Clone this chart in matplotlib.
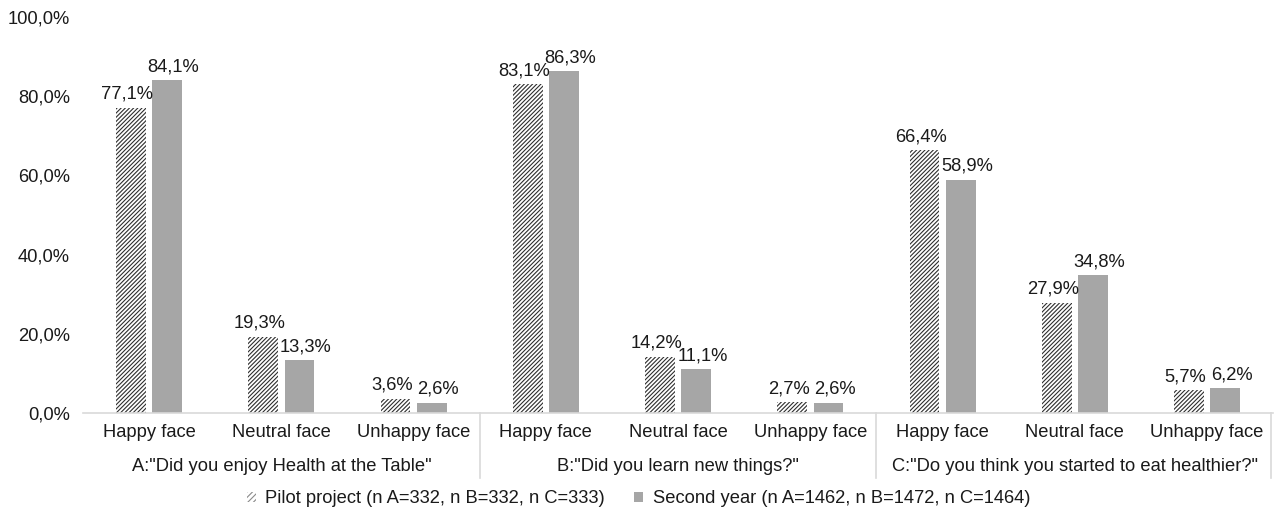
import numpy as np
import matplotlib as mpl
import matplotlib.pyplot as plt
from matplotlib.patches import Patch
from matplotlib.ticker import FuncFormatter

GROUPS = [
    'A:"Did you enjoy Health at the Table"',
    'B:"Did you learn new things?"',
    'C:"Do you think you started to eat healthier?"',
]
FACES = ["Happy face", "Neutral face", "Unhappy face"]

PILOT = [77.1, 19.3, 3.6, 83.1, 14.2, 2.7, 66.4, 27.9, 5.7]
SECOND = [84.1, 13.3, 2.6, 86.3, 11.1, 2.6, 58.9, 34.8, 6.2]

PILOT_LABEL = "Pilot project (n A=332, n B=332, n C=333)"
SECOND_LABEL = "Second year (n A=1462, n B=1472, n C=1464)"

GREY = "#A6A6A6"
HATCH_EDGE = "#2E2E2E"
AXIS = "#D9D9D9"
TEXT = "#1A1A1A"


def pct(v, _pos=None):
    return f"{v:.1f}%".replace(".", ",")


def main():
    mpl.rcParams.update({
        "font.family": ["Liberation Sans", "DejaVu Sans"],
        "font.size": 13.2,
        "hatch.linewidth": 0.8,
        "text.color": TEXT,
        "xtick.color": TEXT,
        "ytick.color": TEXT,
    })

    fig = plt.figure(figsize=(12.77, 5.16), dpi=100)
    ax = fig.add_axes([0.065, 0.1996, 0.932, 0.7674])

    n = len(PILOT)
    x = np.arange(n)
    w = 0.225
    gap = 0.05
    b1 = ax.bar(x - (w + gap) / 2, PILOT, width=w, color="white",
                edgecolor=HATCH_EDGE, hatch="////////", linewidth=0)
    b2 = ax.bar(x + (w + gap) / 2, SECOND, width=w, color=GREY, linewidth=0)

    # nudge the two labels of a pair apart a little, as the original does
    for bars, dx in ((b1, -2.5), (b2, 4.5)):
        for bar in bars:
            h = bar.get_height()
            ax.annotate(pct(h), (bar.get_x() + bar.get_width() / 2, h),
                        xytext=(dx, 3.5), textcoords="offset points",
                        ha="center", va="bottom")

    ax.set_xlim(-0.5, n - 0.5)
    ax.set_ylim(0, 100)
    ax.set_yticks([0, 20, 40, 60, 80, 100])
    ax.yaxis.set_major_formatter(FuncFormatter(pct))
    ax.set_xticks(x, FACES * len(GROUPS))
    ax.tick_params(axis="x", length=0, pad=8)
    ax.tick_params(axis="y", length=0, pad=9.5)

    for s in ("top", "right", "left"):
        ax.spines[s].set_visible(False)
    ax.spines["bottom"].set_color(AXIS)
    ax.spines["bottom"].set_linewidth(1.2)

    trans = mpl.transforms.blended_transform_factory(ax.transData, ax.transAxes)
    for g in range(1, len(GROUPS) + 1):
        xs = g * len(FACES) - 0.5
        if g == len(GROUPS):
            xs -= 0.02
        ax.plot([xs, xs], [0, -0.164], transform=trans, color=AXIS,
                linewidth=1.2, clip_on=False)
    for g, name in enumerate(GROUPS):
        xc = g * len(FACES) + (len(FACES) - 1) / 2
        ax.text(xc, -0.134, name, transform=trans, ha="center", va="center")

    handles = [
        Patch(facecolor="white", edgecolor="#8A8A8A", hatch="//////", linewidth=0, label=PILOT_LABEL),
        Patch(facecolor=GREY, linewidth=0, label=SECOND_LABEL),
    ]
    fig.legend(handles=handles, loc="center", bbox_to_anchor=(0.5, 0.033),
               ncol=2, frameon=False, handlelength=0.5, handleheight=0.5,
               handletextpad=0.5, columnspacing=1.6)

    fig.savefig("out.png", dpi=100)
    plt.close(fig)


if __name__ == "__main__":
    main()
